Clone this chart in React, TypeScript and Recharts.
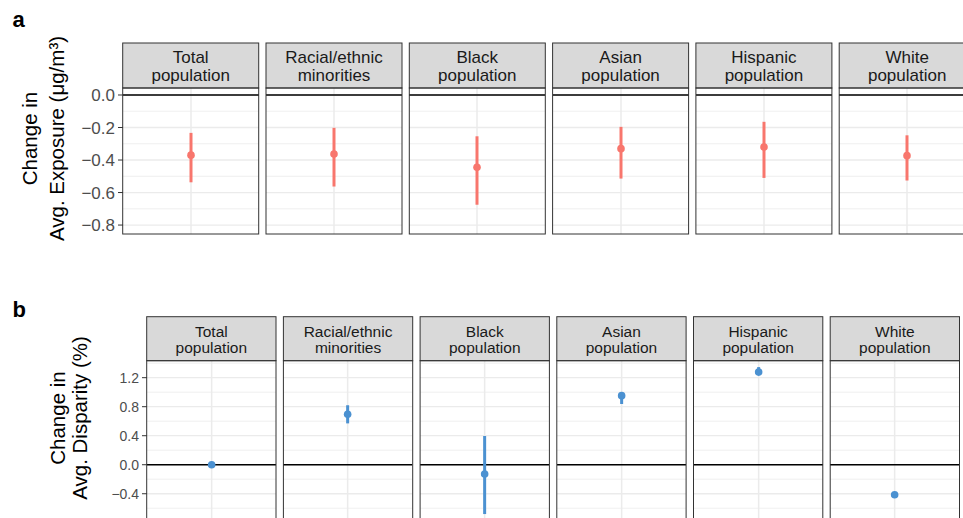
import React from "react";
import {
  ComposedChart, Scatter, ErrorBar, XAxis, YAxis, ReferenceLine,
} from "recharts";

const FONT = '"Liberation Sans", Arial, Helvetica, sans-serif';

// facet strips (two lines each)
const groups = [
  ["Total", "population"],
  ["Racial/ethnic", "minorities"],
  ["Black", "population"],
  ["Asian", "population"],
  ["Hispanic", "population"],
  ["White", "population"],
];

// a: change in average exposure (µg/m3)
const exposureMean = [-0.37, -0.363, -0.444, -0.33, -0.32, -0.373];
const exposureLow = [-0.537, -0.563, -0.675, -0.514, -0.51, -0.526];
const exposureHigh = [-0.233, -0.202, -0.254, -0.196, -0.165, -0.248];
const exposureTicks = [0, -0.2, -0.4, -0.6, -0.8];
const exposureMinor = [-0.1, -0.3, -0.5, -0.7];

// b: change in average disparity (%)
const disparityMean = [0.0, 0.695, -0.128, 0.952, 1.277, -0.414];
const disparityLow = [-0.012, 0.57, -0.68, 0.837, 1.25, -0.432];
const disparityHigh = [0.012, 0.82, 0.396, 0.99, 1.346, -0.398];
const disparityTicks = [1.2, 0.8, 0.4, 0, -0.4];
const disparityMinor = [1.4, 1.0, 0.6, 0.2, -0.2, -0.6];

type Row = {
  mean: number[]; low: number[]; high: number[];
  ticks: number[]; minor: number[];
  domain: [number, number];
  color: string;
  left: number; step: number; panelW: number;
  stripTop: number; plotTop: number; plotH: number;
  axisW: number;
  tickFont: number; stripFont: number;
  stripBase: [number, number];
  title: [string, string];
  titleX: [number, number];
  titleY: number;
  tag: string; tagY: number;
};

const rowA: Row = {
  mean: exposureMean, low: exposureLow, high: exposureHigh,
  ticks: exposureTicks, minor: exposureMinor,
  domain: [-0.855, 0.043],
  color: "#F8766D",
  left: 122.7, step: 143.3, panelW: 136,
  stripTop: 43, plotTop: 88, plotH: 146,
  axisW: 60,
  tickFont: 17, stripFont: 17,
  stripBase: [20.3, 38],
  title: ["Change in", "Avg. Exposure (\u03bcg/m\u00b3)"],
  titleX: [37, 64],
  titleY: 138.5,
  tag: "a", tagY: 27,
};

const rowB: Row = {
  mean: disparityMean, low: disparityLow, high: disparityHigh,
  ticks: disparityTicks, minor: disparityMinor,
  domain: [-0.78, 1.43],
  color: "#4B91D1",
  left: 146.7, step: 136.7, panelW: 129.3,
  stripTop: 316.7, plotTop: 360.7, plotH: 160.3,
  axisW: 60,
  tickFont: 14, stripFont: 15.5,
  stripBase: [20, 36.6],
  title: ["Change in", "Avg. Disparity (%)"],
  titleX: [65, 87],
  titleY: 418,
  tag: "b", tagY: 317,
};

// room above/below the plot so edge tick labels are not clipped
const PAD = 12;

const fmt = (v: number) => v.toFixed(1).replace("-", "\u2212");

function Panel({ row, i }: { row: Row; i: number }) {
  const first = i === 0;
  const axisW = first ? row.axisW : 0;
  const m = row.mean[i];
  const data = [{ x: 1, y: m, err: [m - row.low[i], row.high[i] - m] }];
  const dot = (p: any) => <circle cx={p.cx} cy={p.cy} r={3.8} fill={row.color} />;
  return (
    <div style={{ position: "absolute", left: row.left + i * row.step - axisW, top: row.plotTop - PAD }}>
      <ComposedChart width={row.panelW + axisW} height={row.plotH + 2 * PAD} data={data}
        margin={{ top: PAD, right: 0, bottom: PAD, left: 0 }}>
        <XAxis type="number" dataKey="x" domain={[0, 2]} hide />
        <YAxis type="number" dataKey="y" domain={row.domain} ticks={row.ticks} allowDataOverflow
          interval={0} hide={!first} width={axisW} axisLine={false}
          tickLine={{ stroke: "#333333" }} tickSize={5} tickMargin={3}
          tick={{ fontSize: row.tickFont, fill: "#4D4D4D", fontFamily: FONT }}
          tickFormatter={fmt} />
        {row.minor.map((v) => (
          <ReferenceLine key={"m" + v} y={v} stroke="#EBEBEB" strokeWidth={0.8} />
        ))}
        {row.ticks.map((v) => (
          <ReferenceLine key={"t" + v} y={v} stroke="#EBEBEB" strokeWidth={1.3} />
        ))}
        <ReferenceLine x={1} stroke="#EBEBEB" strokeWidth={1.5} />
        <ReferenceLine y={0} stroke="#000000" strokeWidth={1.6} />
        <Scatter dataKey="y" fill={row.color} shape={dot} isAnimationActive={false}>
          <ErrorBar dataKey="err" direction="y" width={0} strokeWidth={3}
            stroke={row.color} isAnimationActive={false} />
        </Scatter>
      </ComposedChart>
    </div>
  );
}

function Frame({ row }: { row: Row }) {
  const stripH = row.plotTop - row.stripTop;
  return (
    <g>
      {groups.map((g, i) => {
        const x = row.left + i * row.step;
        const cx = x + row.panelW / 2;
        return (
          <g key={i}>
            <rect x={x} y={row.stripTop} width={row.panelW} height={stripH}
              fill="#D9D9D9" stroke="#333333" strokeWidth={1} />
            <text x={cx} y={row.stripTop + row.stripBase[0]} textAnchor="middle"
              fontSize={row.stripFont} fill="#1A1A1A">{g[0]}</text>
            <text x={cx} y={row.stripTop + row.stripBase[1]} textAnchor="middle"
              fontSize={row.stripFont} fill="#1A1A1A">{g[1]}</text>
            <rect x={x} y={row.plotTop} width={row.panelW} height={row.plotH}
              fill="none" stroke="#333333" strokeWidth={1} />
          </g>
        );
      })}
      {row.title.map((t, k) => (
        <text key={k} transform={`translate(${row.titleX[k]},${row.titleY}) rotate(-90)`}
          textAnchor="middle" fontSize={20.5} fill="#000000">{t}</text>
      ))}
      <text x={12.5} y={row.tagY} fontSize={22} fontWeight="bold" fill="#000000">{row.tag}</text>
    </g>
  );
}

export default function App() {
  const rows = [rowA, rowB];
  return (
    <div style={{ position: "absolute", left: 0, top: 0, width: 963, height: 518,
      overflow: "hidden", background: "#ffffff", fontFamily: FONT }}>
      {rows.map((row, r) =>
        groups.map((_, i) => <Panel key={r + "-" + i} row={row} i={i} />)
      )}
      <svg width={963} height={518} style={{ position: "absolute", left: 0, top: 0, pointerEvents: "none" }}
        fontFamily={FONT}>
        {rows.map((row, r) => <Frame key={r} row={row} />)}
      </svg>
    </div>
  );
}
